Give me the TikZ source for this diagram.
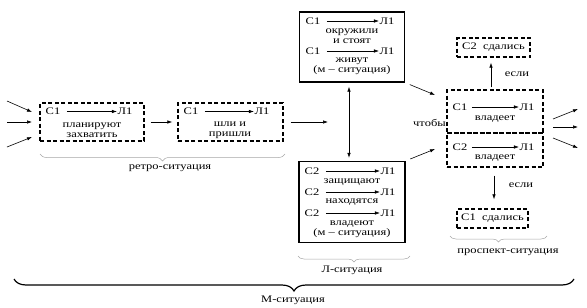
\documentclass[tikz,border=0pt]{standalone}
\usepackage{fontspec}
\setmainfont{Liberation Serif}[FakeStretch=1.25]
\usepackage{tikz}
\usetikzlibrary{arrows.meta, positioning, decorations.pathreplacing}

\begin{document}
\begin{tikzpicture}[
    x=1pt, y=-1pt,
    dbox/.style={draw, dash pattern=on 4pt off 2.5pt, line width=1.3pt, rectangle, inner sep=0pt},
    sbox/.style={draw, line width=1.3pt, rectangle, inner sep=0pt},
    txt/.style={inner sep=0.5pt, align=center, font=\fontsize{10}{9.6}\selectfont},
    arr/.style={-{Latex[length=5pt,width=3.5pt]}, line width=0.6pt},
    brc/.style={decorate, decoration={brace, mirror, amplitude=#1}, draw=gray!70, line width=0.5pt},
    brc/.default=7pt
]
\useasboundingbox (0,0) rectangle (587,308);

% retro-situation
\node (plan) [dbox, minimum width=104pt, minimum height=38pt] at (92,122) {};
\node (planS) [txt] at (53,111.5) {С1};
\node (planL) [txt] at (125,111.5) {Л1};
\node (planT) [txt] at (92,130) {планируют\\захватить};
\node (came) [dbox, minimum width=105pt, minimum height=38pt] at (230.5,122) {};
\node (cameS) [txt] at (191,111.5) {С1};
\node (cameL) [txt] at (262,111.5) {Л1};
\node (cameT) [txt] at (230,130) {шли и\\пришли};

% M-situation box
\node (mtop) [sbox, minimum width=105pt, minimum height=70pt] at (352,47) {};
\node (mtopS) [txt] at (313,21) {С1};
\node (mtopL) [txt] at (387,21) {Л1};
\node (mtopT) [txt] at (352,36) {окружили\\и стоят};
\node (liveS) [txt] at (313,51) {С1};
\node (liveL) [txt] at (387,51) {Л1};
\node (liveT) [txt] at (352,66.5) {живут\\(м – ситуация)};

% L-situation box
\node (lbot) [sbox, minimum width=106pt, minimum height=81pt] at (352,202) {};
\node (defS) [txt] at (312,171) {С2};
\node (defL) [txt] at (388,171) {Л1};
\node (defT) [txt] at (352,182) {защищают};
\node (stayS) [txt] at (312,192) {С2};
\node (stayL) [txt] at (388,192) {Л1};
\node (stayT) [txt] at (352,202.5) {находятся};
\node (holdS) [txt] at (312,213) {С2};
\node (holdL) [txt] at (388,213) {Л1};
\node (holdT) [txt] at (352,229) {владеют\\(м – ситуация)};

% prospect-situation
\node (own) [dbox, minimum width=96pt, minimum height=43pt] at (495,111.5) {};
\node (ownS) [txt] at (460,107) {С1};
\node (ownL) [txt] at (527,107) {Л1};
\node (ownT) [txt] at (495,119.5) {владеет};
\node (own2) [dbox, minimum width=96pt, minimum height=34pt] at (495,150) {};
\node (own2S) [txt] at (460,147) {С2};
\node (own2L) [txt] at (527,147) {Л1};
\node (own2T) [txt] at (495,158.5) {владеет};
\node (sothat) [txt, anchor=east] at (446.5,123) {чтобы};
\node (gaveA) [dbox, minimum width=73pt, minimum height=19pt, txt] at (493.5,47.5) {С2\ \ сдались};
\node (gaveB) [dbox, minimum width=71pt, minimum height=19pt, txt] at (492.5,218.5) {С1\ \ сдались};
\node (ifA) [txt] at (517,74) {если};
\node (ifB) [txt] at (521,185) {если};

% inner arrows
\draw[arr, shorten <=6pt] (planS) -- (planL);
\draw[arr, shorten <=6pt] (cameS) -- (cameL);
\draw[arr, shorten <=6pt] (mtopS) -- (mtopL);
\draw[arr, shorten <=6pt] (liveS) -- (liveL);
\draw[arr, shorten <=6pt] (defS) -- (defL);
\draw[arr, shorten <=6pt] (stayS) -- (stayL);
\draw[arr, shorten <=6pt] (holdS) -- (holdL);
\draw[arr, shorten <=4pt] (ownS) -- (ownL);
\draw[arr, shorten <=4pt] (own2S) -- (own2L);

% connectors
\coordinate (in1) at (7,101);
\coordinate (in2) at (7,122);
\coordinate (in3) at (7,147);
\coordinate (out0) at (328,122);
\coordinate (out1) at (578,109);
\coordinate (out2) at (578,127);
\coordinate (out3) at (578,148);
\draw[arr] (in1) -- (32,112);
\draw[arr] (in2) -- (32,122);
\draw[arr] (in3) -- (32,137);
\draw[arr, shorten <=6pt, shorten >=5pt] (plan) -- (came);
\draw[arr, shorten <=7pt] (came.east) -- (out0);
\draw[arr, {Latex[length=5pt,width=3.5pt]}-{Latex[length=5pt,width=3.5pt]}, shorten <=4pt, shorten >=3pt] (mtop.south -| 349,0) -- (lbot.north -| 349,0);
\draw[arr, shorten <=5pt] (mtop.south east) -- (435,95);
\draw[arr, shorten <=5pt] (lbot.north east) -- (435,149);
\draw[arr] (553,119) -- (out1);
\draw[arr] (553,127) -- (out2);
\draw[arr] (553,138) -- (out3);
\draw[arr, shorten <=2pt, shorten >=5pt] (own.north -| 491,0) -- (gaveA.south -| 491,0);
\draw[arr, shorten <=8pt, shorten >=9pt] (own2.south -| 494,0) -- (gaveB.north -| 494,0);

% braces
\draw[brc] (40,154) -- (285,154);
\node (retro) [txt] at (170,168) {ретро-ситуация};
\draw[brc=6pt] (298,256) -- (410,256);
\node (lsit) [txt] at (352,270) {Л-ситуация};
\draw[brc=6pt] (450,236) -- (547,236);
\node (prosp) [txt] at (508,252) {проспект-ситуация};
\draw[decorate, decoration={brace, mirror, amplitude=12pt}, line width=1.2pt] (14,279) -- (574,279);
\node (msit) [txt] at (293,300) {М-ситуация};

\end{tikzpicture}
\end{document}
